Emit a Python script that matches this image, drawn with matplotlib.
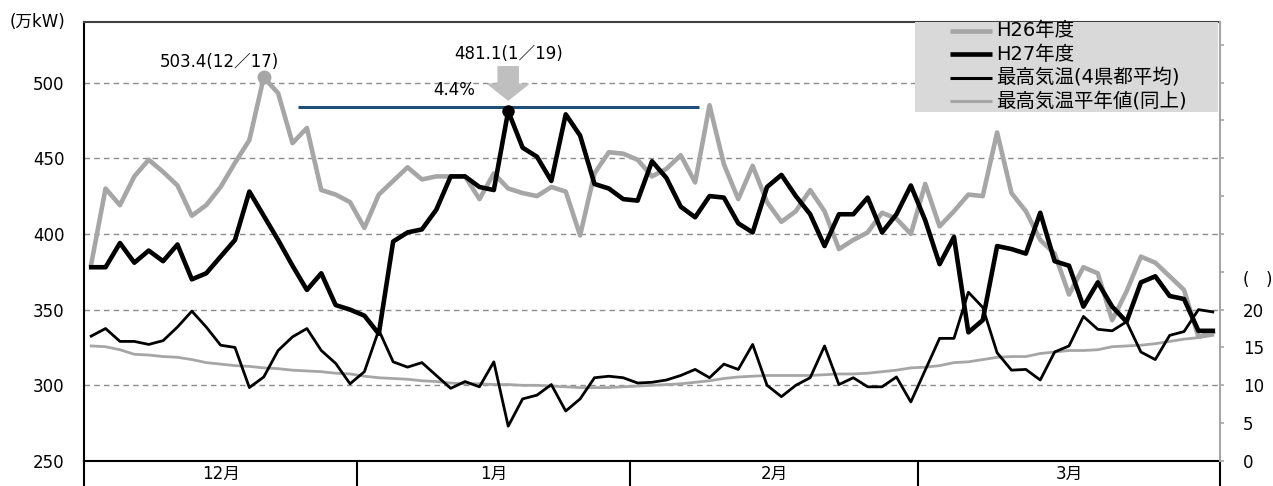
import numpy as np
import matplotlib
matplotlib.use('Agg')
from matplotlib import pyplot as plt
from matplotlib.patches import Rectangle

plt.rcParams['font.family'] = ['DejaVu Sans', 'Noto Sans CJK JP']
plt.rcParams['font.size'] = 12

# business days per month (Dec..Mar)
months = ['12月', '1月', '2月', '3月']
days_per_month = [19, 19, 20, 21]

# peak demand, 万kW
h26 = [380, 430, 419, 438, 449, 441, 432, 412, 419, 431, 447, 462, 503.4, 493, 460, 470, 429, 426, 421,
       404, 426, 435, 444, 436, 438, 438, 438, 423, 440, 430, 427, 425, 431, 428, 399, 440, 454, 453,
       449, 438, 443, 452, 434, 485, 446, 423, 445, 421, 408, 415, 429, 415, 390, 396, 401, 414, 410, 400,
       433, 405, 415, 426, 425, 467, 427, 415, 396, 387, 360, 378, 374, 343, 362, 385, 381, 372, 363, 332, 335]
h27 = [378, 378, 394, 381, 389, 382, 393, 370, 374, 385, 396, 428, 412, 396, 379, 363, 374, 353, 350,
       346, 334, 395, 401, 403, 416, 438, 438, 431, 429, 481.1, 457, 451, 435, 479, 465, 433, 430, 423,
       422, 448, 437, 418, 411, 425, 424, 407, 401, 431, 439, 425, 413, 392, 413, 413, 424, 401, 413, 432,
       409, 380, 398, 335, 343, 392, 390, 387, 414, 382, 379, 352, 368, 352, 342, 368, 372, 359, 357, 336, 336]

# max temperature, deg C (right axis)
temp_max = [16.5, 17.5, 15.8, 15.8, 15.4, 15.9, 17.7, 19.8, 17.7, 15.3, 15.0, 9.7, 11.1, 14.6, 16.4, 17.5, 14.6, 12.9, 10.2,
            11.8, 17.3, 13.1, 12.4, 13.0, 11.3, 9.6, 10.5, 9.8, 13.1, 4.6, 8.2, 8.7, 10.1, 6.6, 8.2, 11.0, 11.2, 11.0,
            10.3, 10.4, 10.7, 11.3, 12.1, 11.0, 12.8, 12.1, 15.4, 10.0, 8.5, 10.0, 11.0, 15.2, 10.1, 11.0, 9.8, 9.8, 11.1, 7.8,
            12.0, 16.2, 16.2, 22.3, 20.3, 14.3, 12.0, 12.1, 10.7, 14.4, 15.2, 19.1, 17.4, 17.2, 18.4, 14.4, 13.4, 16.6, 17.1, 20.0, 19.7]
temp_normal = [15.2, 15.1, 14.7, 14.1, 14.0, 13.8, 13.7, 13.4, 13.0, 12.8, 12.6, 12.5, 12.3, 12.2, 12.0, 11.9, 11.8, 11.6, 11.5,
               11.2, 11.0, 10.9, 10.8, 10.6, 10.5, 10.3, 10.2, 10.2, 10.1, 10.1, 10.0, 10.0, 9.9, 9.8, 9.7, 9.7, 9.7, 9.8,
               9.9, 10.0, 10.1, 10.2, 10.4, 10.6, 10.9, 11.1, 11.2, 11.3, 11.3, 11.3, 11.3, 11.4, 11.5, 11.5, 11.6, 11.8, 12.0, 12.3,
               12.4, 12.6, 13.0, 13.1, 13.4, 13.7, 13.8, 13.8, 14.2, 14.4, 14.6, 14.6, 14.7, 15.1, 15.2, 15.3, 15.5, 15.8, 16.1, 16.3, 16.6]

h26_peak_date = '12／17'
h27_peak_date = '1／19'
labels = ['H26年度', 'H27年度', '最高気温(4県都平均)', '最高気温平年値(同上)']

GRAY = '#a6a6a6'

W, H = 1273, 486
AX_L, AX_B, AX_W, AX_H = 84, 25, 1136, 439
fig = plt.figure(figsize=(W / 100, H / 100), dpi=100)
ax = fig.add_axes([AX_L / W, AX_B / H, AX_W / W, AX_H / H])
ax2 = ax.twinx()


def axfrac(px, py):
    # pixel position (from top-left) -> axes fraction
    return (px - AX_L) / AX_W, (H - AX_B - py) / AX_H


n = len(h27)
x = np.arange(n)
y_lo, y_hi = 250, 540
ax.set_xlim(-0.5, n - 0.5)
ax.set_ylim(y_lo, y_hi)
ax2.set_ylim((y_lo - 250) / 5, (y_hi - 250) / 5)

for v in range(300, 501, 50):
    ax.axhline(v, color='#8c8c8c', lw=1.0, ls=(0, (4, 3)), zorder=0)

ax.plot(x, h26, color=GRAY, lw=3.3, zorder=3)
ax.plot(x, h27, color='black', lw=3.3, zorder=4)
ax2.plot(x, temp_normal, color=GRAY, lw=2.0)
ax2.plot(x, temp_max, color='black', lw=2.0)

# peaks
i26 = int(np.argmax(h26))
i27 = int(np.argmax(h27))
ax.plot(i26, h26[i26], 'o', color=GRAY, ms=9, zorder=5)
ax.hlines(h27[i27] + 2.5, i27 - 14.6, i27 + 13.3, color='#1f4e79', lw=2.2, zorder=5)
ax.plot(i27, h27[i27], 'o', color='black', ms=8, zorder=6)

ax.annotate(f'{h26[i26]:.1f}({h26_peak_date})', xy=(i26, h26[i26]), xytext=(-32, 11),
            textcoords='offset points', ha='center', va='center')
ax.annotate(f'{h27[i27]:.1f}({h27_peak_date})', xy=(i27, h27[i27]), xytext=(0, 41),
            textcoords='offset points', ha='center', va='center')
ax.annotate('', xy=(i27, h27[i27]), xytext=(0, 32), textcoords='offset points',
            arrowprops=dict(arrowstyle='simple,head_length=1.15,head_width=2.9,tail_width=1.45',
                            mutation_scale=10, color='#bfbfbf', shrinkA=0, shrinkB=8))
pct = (h26[i26] - h27[i27]) / h26[i26] * 100
ax.annotate(f'{pct:.1f}%', xy=(i27, h27[i27]), xytext=(-39, 15.5),
            textcoords='offset points', ha='center', va='center')

# month blocks under the axis
edges = np.concatenate([[0], np.cumsum(days_per_month)]) - 0.5
tr = ax.get_xaxis_transform()
for e in edges:
    ax.plot([e, e], [0, -AX_B / AX_H], transform=tr, color='black', lw=1.5, clip_on=False)
for m, a, b in zip(months, edges[:-1], edges[1:]):
    ax.text((a + b) / 2, -12.5 / AX_H, m, transform=tr, ha='center', va='center')

ax.set_xticks([])
ax.set_yticks(np.arange(250, 501, 50))
ax.tick_params(axis='y', length=0, pad=14)
rt = np.arange(0, 56, 5)
ax2.set_yticks(rt)
ax2.set_yticklabels([str(t) if t <= 20 else '' for t in rt])
ax2.tick_params(axis='y', length=3, color=GRAY, width=1.2, pad=13.5)

ax.spines['right'].set_visible(False)
for s in ['left', 'top', 'bottom']:
    ax2.spines[s].set_visible(False)
ax2.spines['right'].set_color(GRAY)
ax2.spines['right'].set_linewidth(1.5)
ax.spines['top'].set_color('#404040')
for s in ['left', 'top', 'bottom']:
    ax.spines[s].set_linewidth(1.5)

fig.text(37.5 / W, 1 - 22 / H, '(万kW)', ha='center', va='center')
fig.text(1258 / W, 1 - 280 / H, '(\u3000)', ha='center', va='center')

# legend box drawn by hand (grey panel, top right)
bx0, by1 = axfrac(915, 22)
bx1, by0 = axfrac(1218, 112)
ax2.add_patch(Rectangle((bx0, by0), bx1 - bx0, by1 - by0, transform=ax2.transAxes,
                        facecolor='#d9d9d9', edgecolor='none', zorder=10, clip_on=False))
styles = [(GRAY, 3.3), ('black', 3.3), ('black', 2.2), (GRAY, 2.2)]
for k, (lab, (col, lw)) in enumerate(zip(labels, styles)):
    py = 31 + 23.5 * k
    lx0, ly = axfrac(950, py)
    lx1, _ = axfrac(992, py)
    tx, _ = axfrac(996, py)
    ax2.plot([lx0, lx1], [ly, ly], transform=ax2.transAxes, color=col, lw=lw, zorder=11,
             solid_capstyle='butt')
    ax2.text(tx, ly, lab, transform=ax2.transAxes, ha='left', va='center', fontsize=14, zorder=11)

fig.savefig('out.png', dpi=100)
